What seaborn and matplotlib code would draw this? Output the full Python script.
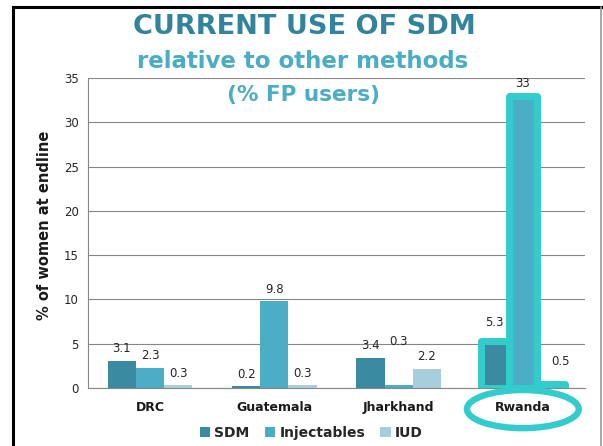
import matplotlib
matplotlib.use("Agg")
import matplotlib.pyplot as plt
import seaborn as sns
import pandas as pd
from matplotlib.lines import Line2D
from matplotlib.patches import Ellipse, Patch
from matplotlib.ticker import FixedLocator

# ── Data ────────────────────────────────────────────────────────────────────
countries = ["DRC", "Guatemala", "Jharkhand", "Rwanda"]
methods = ["SDM", "Injectables", "IUD"]
sdm = [3.1, 0.2, 3.4, 5.3]
injectables = [2.3, 9.8, 0.3, 33]
iud = [0.3, 0.3, 2.2, 0.5]

highlight_country = "Rwanda"

title = "CURRENT USE OF SDM"
subtitle = "relative to other methods"
subtitle2 = "(% FP users)"
ylabel = "% of women at endline"

colors = ["#3A8AA2", "#4BADC6", "#A7CEDD"]
cyan = "#33CCCC"
dark_teal = "#31849B"
light_teal = "#4BACC6"

df = pd.DataFrame({
    "country": countries * 3,
    "method": [m for m in methods for _ in countries],
    "value": sdm + injectables + iud,
})

sns.set_style("white")
plt.rcParams["font.family"] = ["DejaVu Sans"]

fig = plt.figure(figsize=(6.03, 4.46), dpi=100)
ax = fig.add_axes([0.1459, 0.130, 0.8242, 0.695])

sns.barplot(
    data=df, x="country", y="value", hue="method",
    order=countries, hue_order=methods, palette=colors,
    width=0.68, saturation=1, legend=False, ax=ax, zorder=2,
    linewidth=0, edgecolor="none",
)

ax.set_xlim(-0.5, len(countries) - 0.5)
ax.set_ylim(0, 35)
ax.set_yticks(range(0, 36, 5))
ax.yaxis.grid(True, color="#868686", linewidth=0.8, zorder=0)
ax.set_axisbelow(True)
ax.set_xlabel("")
ax.set_ylabel("")

for side in ["top", "right"]:
    ax.spines[side].set_visible(False)
for side in ["left", "bottom"]:
    ax.spines[side].set_color("#868686")
    ax.spines[side].set_linewidth(0.8)

ax.tick_params(axis="y", direction="out", length=3.6, width=0.8, color="#868686",
               labelsize=8.5, labelcolor="#262626", pad=3)
ax.tick_params(axis="x", which="major", length=0, pad=9)
ax.xaxis.set_minor_locator(FixedLocator([i - 0.5 for i in range(len(countries) + 1)]))
ax.tick_params(axis="x", which="minor", direction="out", length=3.6, width=0.8, color="#868686")
for lbl in ax.get_xticklabels():
    lbl.set_fontweight("bold")
    lbl.set_fontsize(9)
    lbl.set_color("#1a1a1a")

# ── Value labels ────────────────────────────────────────────────────────────
hi = countries.index(highlight_country)
jh = countries.index("Jharkhand")
label_sets = []
for container in ax.containers:
    label_sets.append(ax.bar_label(
        container, labels=[f"{p.get_height():g}" for p in container],
        padding=4, fontsize=8.5, color="#262626"))

# placements as on the original slide (raised where the outline sits)
label_sets[1][jh].xyann = (0, 27)
label_sets[0][hi].xyann = (0, 9)
label_sets[1][hi].xyann = (0, 4)
label_sets[2][hi].xyann = (7, 11)

# ── Highlight outline ───────────────────────────────────────────────────────
for container in ax.containers:
    bar = container[hi]
    bar.set_edgecolor(cyan)
    bar.set_linewidth(5)
    bar.set_joinstyle("round")
    bar.set_zorder(3)

ell = Ellipse((hi, -0.068), width=0.9, height=0.123, transform=ax.get_xaxis_transform(),
              fill=False, edgecolor=cyan, linewidth=4.6, clip_on=False, zorder=4)
ax.add_patch(ell)

# ── Titles ──────────────────────────────────────────────────────────────────
fig.text(0.504, 0.9395, title, ha="center", va="center", fontsize=19.5,
         fontweight="bold", color=dark_teal)
fig.text(0.502, 0.861, subtitle, ha="center", va="center", fontsize=16.5,
         fontweight="bold", color=light_teal)
fig.text(0.503, 0.787, subtitle2, ha="center", va="center", fontsize=15.5,
         fontweight="bold", color=light_teal)
fig.text(0.0746, 0.4955, ylabel, ha="center", va="center", rotation=90,
         fontsize=10.5, fontweight="bold", color="#1a1a1a")

# ── Legend ──────────────────────────────────────────────────────────────────
handles = [Patch(facecolor=c, edgecolor="none") for c in colors]
fig.legend(handles, methods, loc="center", bbox_to_anchor=(0.516, 0.029), ncol=3,
           frameon=False, handlelength=0.75, handleheight=0.75, handletextpad=0.3,
           columnspacing=1.1, prop={"weight": "bold", "size": 10})

# ── Slide border ────────────────────────────────────────────────────────────
fig.add_artist(Line2D([0.021, 0.021], [-0.01, 0.9836], color="black", linewidth=2.2,
                      solid_capstyle="projecting"))
fig.add_artist(Line2D([0.021, 1.0], [0.9836, 0.9836], color="black", linewidth=2.2,
                      solid_capstyle="projecting"))
fig.add_artist(Line2D([0.9967, 0.9967], [-0.01, 0.9836], color="#9a9a9a", linewidth=1.2))

fig.savefig("out.png", dpi=100)
